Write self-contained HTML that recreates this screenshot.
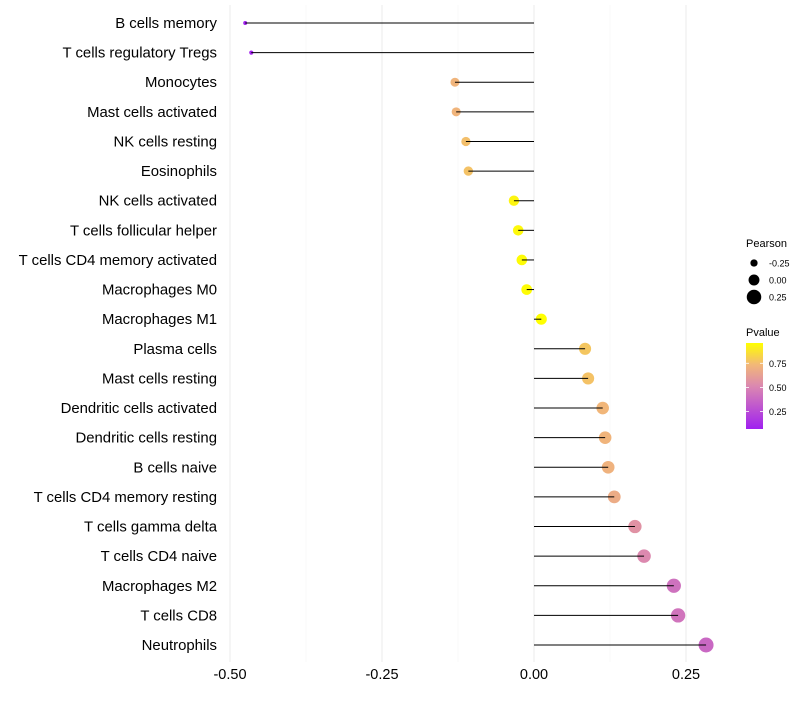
<!DOCTYPE html>
<html><head><meta charset="utf-8"><style>
body{margin:0;background:#fff;}
svg text{font-family:"Liberation Sans",sans-serif;}
</style></head><body>
<svg id="chart" width="800" height="700"></svg>
<script>
const categories=["B cells memory","T cells regulatory  Tregs","Monocytes","Mast cells activated","NK cells resting","Eosinophils","NK cells activated","T cells follicular helper","T cells CD4 memory activated","Macrophages M0","Macrophages M1","Plasma cells","Mast cells resting","Dendritic cells activated","Dendritic cells resting","B cells naive","T cells CD4 memory resting","T cells gamma delta","T cells CD4 naive","Macrophages M2","T cells CD8","Neutrophils"];
const pearson=[-0.475,-0.465,-0.13,-0.128,-0.112,-0.108,-0.033,-0.026,-0.02,-0.012,0.012,0.084,0.089,0.113,0.117,0.122,0.132,0.166,0.181,0.23,0.237,0.283];
const pvalue=[0.08,0.09,0.72,0.72,0.76,0.77,0.93,0.94,0.95,0.95,0.96,0.78,0.77,0.73,0.72,0.71,0.68,0.56,0.52,0.42,0.43,0.38];
const xTicks=[-0.5,-0.25,0,0.25];
const xTickLabels=["-0.50","-0.25","0.00","0.25"];
const sizeTicks=[-0.25,0,0.25];
const pTicks=[0.25,0.5,0.75];

const NS="http://www.w3.org/2000/svg";
const svg=document.getElementById("chart");
function mk(t,a,p){const e=document.createElementNS(NS,t);for(const k in a)e.setAttribute(k,a[k]);(p||svg).appendChild(e);return e;}
const x=v=>534+v*608;
const y=i=>23+i*(622/21);
const pMin=0.07,pMax=0.96;
const stops=[[0,[160,32,240]],[0.5,[219,136,176]],[0.75,[242,184,119]],[1,[255,255,0]]];
function col(p){let t=Math.max(0,Math.min(1,(p-pMin)/(pMax-pMin)));for(let i=1;i<stops.length;i++){if(t<=stops[i][0]){const a=stops[i-1],b=stops[i];const f=(t-a[0])/(b[0]-a[0]);const c=a[1].map((v,j)=>Math.round(v+(b[1][j]-v)*f));return `rgb(${c})`;}}return "rgb(255,255,0)";}
const sMin=-0.475,sMax=0.283;
const r=v=>2+(v-sMin)/(sMax-sMin)*5.5;

xTicks.forEach((v,i)=>{
 const g=mk("line",{x1:x(v),x2:x(v),y1:5,y2:662,stroke:"#ebebeb","stroke-width":1});
 
 if(i<xTicks.length-1){const m=mk("line",{x1:x(v+0.125),x2:x(v+0.125),y1:5,y2:662,stroke:"#f7f7f7","stroke-width":0.6});}
 const t=mk("text",{x:x(v),y:679,"text-anchor":"middle","font-size":14.5,fill:"#000"});t.textContent=xTickLabels[i];
 
});
categories.forEach((c,i)=>{
 const t=mk("text",{x:217,y:y(i)+5,"text-anchor":"end","font-size":14.9,fill:"#000"});t.textContent=c;
 
 const d=mk("circle",{cx:x(pearson[i]),cy:y(i),r:r(pearson[i]),fill:col(pvalue[i])});
 
 const l=mk("line",{x1:x(0),x2:x(pearson[i]),y1:y(i),y2:y(i),stroke:"#000","stroke-width":1});
 
});
const st=mk("text",{x:746,y:247,"font-size":11,fill:"#000"});st.textContent="Pearson";

sizeTicks.forEach((v,i)=>{
 const cy=263+i*17;
 const c=mk("circle",{cx:754,cy:cy,r:r(v),fill:"#000"});
 const t=mk("text",{x:769,y:cy+3.5,"font-size":9,fill:"#000"});t.textContent=v.toFixed(2);
 
});
const ct=mk("text",{x:746,y:336,"font-size":11,fill:"#000"});ct.textContent="Pvalue";

const defs=mk("defs",{});const lg=mk("linearGradient",{id:"pg",x1:0,y1:1,x2:0,y2:0},defs);
stops.forEach(s=>mk("stop",{offset:s[0],"stop-color":`rgb(${s[1]})`},lg));
const bar=mk("rect",{x:746,y:343,width:17,height:86,fill:"url(#pg)"});

const py=p=>429-(p-pMin)/(pMax-pMin)*86;
pTicks.forEach(p=>{
 mk("line",{x1:746,x2:749,y1:py(p),y2:py(p),stroke:"#fff","stroke-width":0.8});
 mk("line",{x1:760,x2:763,y1:py(p),y2:py(p),stroke:"#fff","stroke-width":0.8});
 const t=mk("text",{x:769,y:py(p)+3.5,"font-size":9,fill:"#000"});t.textContent=p.toFixed(2);
 
});
</script>
</body></html>
